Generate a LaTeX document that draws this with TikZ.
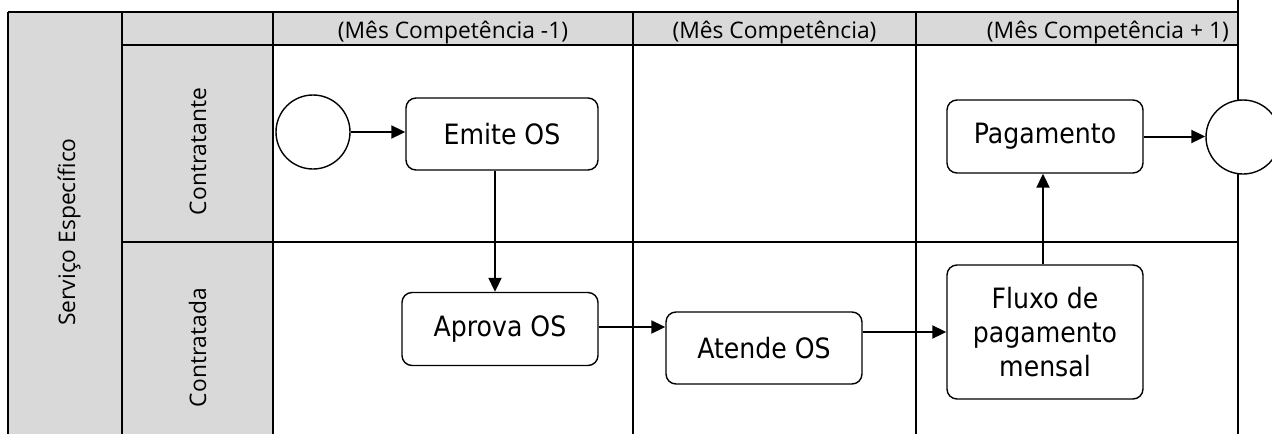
\documentclass[tikz,border=0pt]{standalone}
\usepackage{fontspec}
\setmainfont{Open Sans}
\newfontfamily\boxfont[FakeStretch=0.9]{DejaVu Sans}
\usetikzlibrary{arrows.meta,calc}
\definecolor{lanegray}{HTML}{D9D9D9}
\begin{document}
\begin{tikzpicture}[x=1pt,y=-1pt,
  grid/.style={line width=2.2pt},
  hdr/.style={font=\fontsize{22.8}{27}\selectfont, anchor=base, inner sep=0pt},
  lanelbl/.style={font=\fontsize{22.8}{27}\selectfont, anchor=base, rotate=90, inner sep=0pt},
  task/.style={draw, line width=1.4pt, rounded corners=10pt, minimum width=196pt, minimum height=73pt,
    align=center, inner sep=2pt, font=\boxfont\fontsize{28}{34}\selectfont},
  evt/.style={draw, circle, line width=1.4pt, fill=white, minimum size=74pt, inner sep=0pt},
  arr/.style={line width=2pt, -{Triangle[length=14pt,width=13pt]}}
]
\useasboundingbox (0,0) rectangle (1272,434);
\clip (0,0) rectangle (1272,434);
% gray areas
\fill[lanegray] (8,12) rectangle (122,434);
\fill[lanegray] (122,45) rectangle (273,434);
\fill[lanegray] (122,12) rectangle (1238,45);
% grid lines
\draw[grid] (8,12) -- (1238,12);
\draw[grid] (122,45) -- (1238,45);
\draw[grid] (122,242) -- (1238,242);
\draw[grid] (8,12) -- (8,434);
\draw[grid] (122,12) -- (122,434);
\draw[grid] (273,12) -- (273,434);
\draw[grid] (633,12) -- (633,434);
\draw[grid] (916,12) -- (916,434);
\draw[grid] (1238,0) -- (1238,434);
% headers
\node[hdr] (h1) at (453,38) {(Mês Competência -1)};
\node[hdr] (h2) at (774.5,38) {(Mês Competência)};
\node[hdr, anchor=base east] (h3) at (1229,38) {(Mês Competência + 1)};
% lane labels
\node[lanelbl] (pool) at (75,232) {Serviço Específico};
\node[lanelbl] (l1) at (206,151.5) {Contratante};
\node[lanelbl] (l2) at (206,347.5) {Contratada};
% events and tasks
\node[evt] (start) at (313,132) {};
\node[evt] (end) at (1243,137) {};
\node[task, minimum width=192pt, minimum height=72pt] (emite) at (502,134) {Emite OS};
\node[task] (aprova) at (500,329) {Aprova OS};
\node[task, minimum height=72pt] (atende) at (764,348) {Atende OS};
\node[task, minimum height=134pt] (fluxo) at (1045,332) {Fluxo de\\pagamento\\mensal};
\node[task] (pag) at (1045,136.5) {Pagamento};
% connectors
\draw[arr] (start.east) -- (start.east -| emite.west);
\draw[arr] ([xshift=-7pt]emite.south) -- ([xshift=-7pt]emite.south |- aprova.north);
\draw[arr] ([yshift=2pt]aprova.east) -- ([yshift=2pt]aprova.east -| atende.west);
\draw[arr] ([yshift=16pt]atende.east) -- ([yshift=16pt]atende.east -| fluxo.west);
\draw[arr] ([xshift=-2pt]fluxo.north) -- ([xshift=-2pt]fluxo.north |- pag.south);
\draw[arr] (pag.east) -- (pag.east -| end.west);
\end{tikzpicture}
\end{document}
